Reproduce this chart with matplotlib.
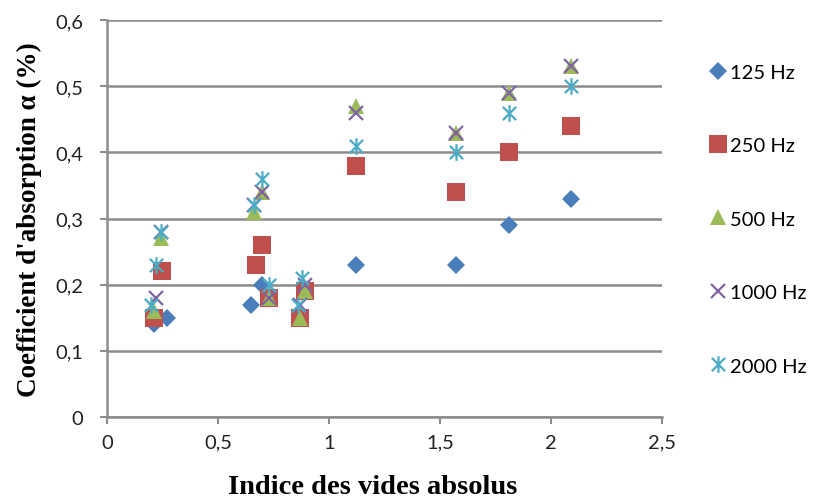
import matplotlib
matplotlib.use("Agg")
import matplotlib.pyplot as plt
from matplotlib.path import Path

# Data
X_125 = [0.21, 0.27, 0.65, 0.70, 0.73, 0.87, 0.89, 1.12, 1.57, 1.81, 2.09]
Y_125 = [0.14, 0.15, 0.17, 0.20, 0.18, 0.15, 0.19, 0.23, 0.23, 0.29, 0.33]

X_250 = [0.21, 0.25, 0.67, 0.70, 0.73, 0.87, 0.89, 1.12, 1.57, 1.81, 2.09]
Y_250 = [0.15, 0.22, 0.23, 0.26, 0.18, 0.15, 0.19, 0.38, 0.34, 0.40, 0.44]

X_500 = [0.21, 0.245, 0.66, 0.70, 0.73, 0.87, 0.89, 1.12, 1.57, 1.81, 2.09]
Y_500 = [0.16, 0.27, 0.31, 0.34, 0.18, 0.15, 0.19, 0.47, 0.43, 0.49, 0.53]

X_1000 = [0.22, 0.245, 0.66, 0.70, 0.73, 0.87, 0.89, 1.12, 1.57, 1.81, 2.09]
Y_1000 = [0.18, 0.28, 0.32, 0.34, 0.18, 0.17, 0.20, 0.46, 0.43, 0.49, 0.53]

X_2000 = [0.20, 0.22, 0.245, 0.66, 0.70, 0.73, 0.86, 0.88, 1.12, 1.57, 1.81, 2.09]
Y_2000 = [0.17, 0.23, 0.28, 0.32, 0.36, 0.20, 0.17, 0.21, 0.41, 0.40, 0.46, 0.50]

SERIES_LABELS = ["125 Hz", "250 Hz", "500 Hz", "1000 Hz", "2000 Hz"]

X_TICKS = [0, 0.5, 1, 1.5, 2, 2.5]
X_TICK_LABELS = ["0", "0,5", "1", "1,5", "2", "2,5"]
Y_TICKS = [0, 0.1, 0.2, 0.3, 0.4, 0.5, 0.6]
Y_TICK_LABELS = ["0", "0,1", "0,2", "0,3", "0,4", "0,5", "0,6"]

# Excel-style asterisk marker: vertical bar plus an X
STAR = Path(
    [(0, -1), (0, 1), (-0.8, -0.8), (0.8, 0.8), (-0.8, 0.8), (0.8, -0.8)],
    [Path.MOVETO, Path.LINETO, Path.MOVETO, Path.LINETO, Path.MOVETO, Path.LINETO],
)

GRID_COLOR = "#8c8c8c"

plt.rcParams["font.family"] = ["Lato", "DejaVu Sans"]

fig = plt.figure(figsize=(8.13, 5.02), dpi=100)
ax = fig.add_axes([0.1316, 0.1673, 0.6827, 0.7907])

ax.plot(X_125, Y_125, linestyle="none", marker="D", markersize=9.5,
        color="#4a7ebb", markeredgewidth=0, label=SERIES_LABELS[0])
ax.plot(X_250, Y_250, linestyle="none", marker="s", markersize=13,
        color="#c0504d", markeredgewidth=0, label=SERIES_LABELS[1])
ax.plot(X_500, Y_500, linestyle="none", marker="^", markersize=12,
        color="#9bbb59", markeredgewidth=0, label=SERIES_LABELS[2])
ax.plot(X_1000, Y_1000, linestyle="none", marker="x", markersize=10,
        color="#8064a2", markeredgewidth=1.6, label=SERIES_LABELS[3])
ax.plot(X_2000, Y_2000, linestyle="none", marker=STAR, markersize=12,
        color="#4bacc6", markerfacecolor="none", markeredgewidth=1.6,
        label=SERIES_LABELS[4])

ax.set_xlim(0, 2.5)
ax.set_ylim(0, 0.6)
ax.set_xticks(X_TICKS)
ax.set_xticklabels(X_TICK_LABELS)
ax.set_yticks(Y_TICKS)
ax.set_yticklabels(Y_TICK_LABELS)
ax.tick_params(axis="both", labelsize=14.5, colors=GRID_COLOR, labelcolor="#222222",
               length=5, width=1.5, direction="out")
ax.tick_params(axis="x", pad=7)
ax.tick_params(axis="y", pad=12)

ax.yaxis.grid(True, color=GRID_COLOR, linewidth=1.8)
ax.set_axisbelow(True)
for side in ["top", "right"]:
    ax.spines[side].set_visible(False)
for side in ["left", "bottom"]:
    ax.spines[side].set_color(GRID_COLOR)
    ax.spines[side].set_linewidth(1.8)

ax.set_xlabel("Indice des vides absolus", family="Liberation Serif",
              fontweight="bold", fontsize=20.5, labelpad=16.5)
ax.xaxis.label.set_x(0.479)
ax.set_ylabel("Coefficient d'absorption α (%)", family="Liberation Serif",
              fontweight="bold", fontsize=19.5, labelpad=9.5)

ax.legend(loc="upper left", bbox_to_anchor=(1.0685, 0.911), frameon=False,
          fontsize=14.5, labelspacing=2.8, handletextpad=0.1,
          handlelength=1.0, borderaxespad=0)

fig.savefig("out.png", dpi=100)
